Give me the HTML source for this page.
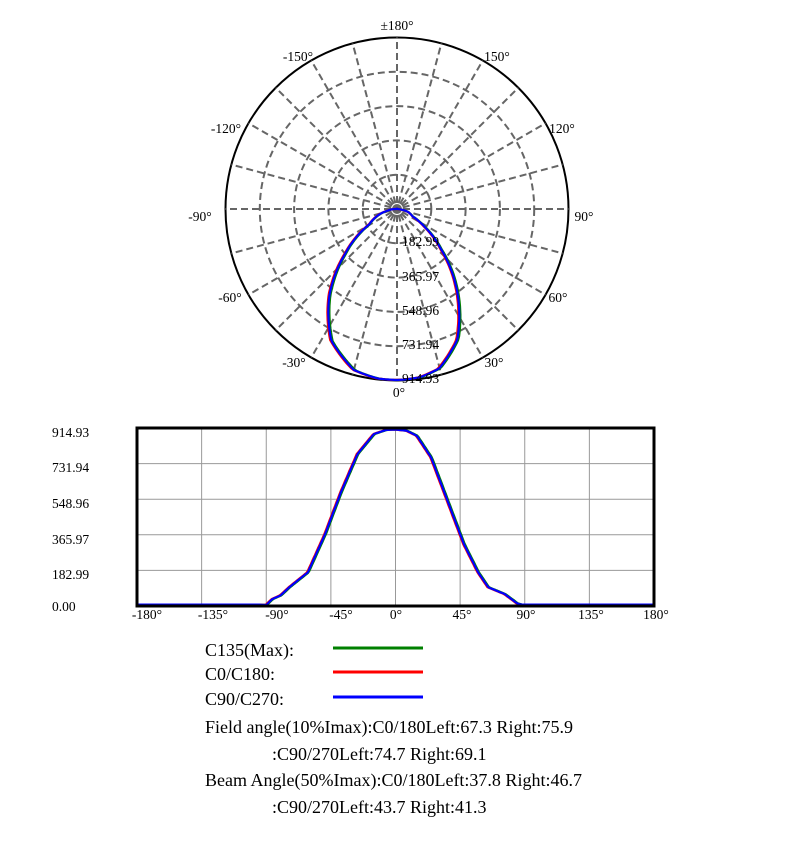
<!DOCTYPE html>
<html><head><meta charset="utf-8"><style>
body{margin:0;background:#fff;width:799px;height:841px;overflow:hidden}
svg{position:absolute;left:0;top:0}
text{font-family:"Liberation Serif",serif;fill:#000}
</style></head><body>
<svg id="s" width="799" height="841" viewBox="0 0 799 841">
<g id="polar"></g>
<g id="cart"></g>
<g font-size="13.5">
<text x="397" y="30" text-anchor="middle">±180°</text>
<text x="298" y="61" text-anchor="middle">-150°</text>
<text x="497" y="61" text-anchor="middle">150°</text>
<text x="226" y="133" text-anchor="middle">-120°</text>
<text x="562" y="133" text-anchor="middle">120°</text>
<text x="200" y="221" text-anchor="middle">-90°</text>
<text x="584" y="221" text-anchor="middle">90°</text>
<text x="230" y="302" text-anchor="middle">-60°</text>
<text x="558" y="302" text-anchor="middle">60°</text>
<text x="294" y="367" text-anchor="middle">-30°</text>
<text x="494" y="367" text-anchor="middle">30°</text>
<text x="399" y="397" text-anchor="middle">0°</text>
<text x="402" y="246">182.99</text>
<text x="402" y="281">365.97</text>
<text x="402" y="315">548.96</text>
<text x="402" y="349">731.94</text>
<text x="402" y="383">914.93</text>
<text x="52" y="437">914.93</text>
<text x="52" y="472">731.94</text>
<text x="52" y="508">548.96</text>
<text x="52" y="544">365.97</text>
<text x="52" y="579">182.99</text>
<text x="52" y="611">0.00</text>
<text x="147" y="619" text-anchor="middle">-180°</text>
<text x="213" y="619" text-anchor="middle">-135°</text>
<text x="277" y="619" text-anchor="middle">-90°</text>
<text x="341" y="619" text-anchor="middle">-45°</text>
<text x="396" y="619" text-anchor="middle">0°</text>
<text x="462" y="619" text-anchor="middle">45°</text>
<text x="526" y="619" text-anchor="middle">90°</text>
<text x="591" y="619" text-anchor="middle">135°</text>
<text x="656" y="619" text-anchor="middle">180°</text>
</g>
<g font-size="18">
<text x="205" y="656">C135(Max):</text>
<text x="205" y="680">C0/C180:</text>
<text x="205" y="705">C90/C270:</text>
<text x="205" y="733">Field angle(10%Imax):C0/180Left:67.3 Right:75.9</text>
<text x="272" y="760">:C90/270Left:74.7 Right:69.1</text>
<text x="205" y="786">Beam Angle(50%Imax):C0/180Left:37.8 Right:46.7</text>
<text x="272" y="813">:C90/270Left:43.7 Right:41.3</text>
</g>
<line x1="333" y1="648" x2="423" y2="648" stroke="#008000" stroke-width="3"/>
<line x1="333" y1="672" x2="423" y2="672" stroke="#ff0000" stroke-width="3"/>
<line x1="333" y1="697" x2="423" y2="697" stroke="#0000ff" stroke-width="3"/>
</svg>
<script>
var NS="http://www.w3.org/2000/svg";
function el(p,t,a){var e=document.createElementNS(NS,t);for(var k in a)e.setAttribute(k,a[k]);p.appendChild(e);return e;}
var pts=[[-180,2],[-95,2],[-90,0],[-86,30],[-80,50],[-74,92],[-61,170],[-49,369],[-38,586],[-26.5,785],[-15,889],[-6.5,910],[0,912],[7.7,906],[14.8,880],[24.8,767],[36.2,542],[47.6,317],[57.5,170],[64.6,92],[76,57],[84.6,9],[87.4,2],[180,2]];
function I(a,sh,sc){a-=sh;for(var i=0;i<pts.length-1;i++){if(a>=pts[i][0]&&a<=pts[i+1][0]){var t=(a-pts[i][0])/(pts[i+1][0]-pts[i][0]);return (pts[i][1]+t*(pts[i+1][1]-pts[i][1]))*sc;}}return 2;}
var cx=397,cy=209,R=171.5,P=document.getElementById('polar');
el(P,'circle',{cx:cx,cy:cy,r:R,fill:'none',stroke:'#000','stroke-width':2});
for(var k=1;k<=4;k++)el(P,'circle',{cx:cx,cy:cy,r:R*k/5,fill:'none',stroke:'#666','stroke-width':2,'stroke-dasharray':'7,4'});
el(P,'circle',{cx:cx,cy:cy,r:5,fill:'#666'});
for(var d=0;d<360;d+=15){var r=d*Math.PI/180;el(P,'line',{x1:cx+6*Math.sin(r),y1:cy+6*Math.cos(r),x2:cx+R*Math.sin(r),y2:cy+R*Math.cos(r),stroke:'#666','stroke-width':2,'stroke-dasharray':'7,4'});}
var C=document.getElementById('cart'),L=137,Rt=654,T=428,B=606;
for(var i=1;i<8;i++){var x=L+(Rt-L)*i/8;el(C,'line',{x1:x,y1:T,x2:x,y2:B,stroke:'#999','stroke-width':1});}
for(var i=1;i<5;i++){var y=T+(B-T)*i/5;el(C,'line',{x1:L,y1:y,x2:Rt,y2:y,stroke:'#999','stroke-width':1});}
var ser=[['#008000',0.6,1.0],['#ff0000',-0.5,1.0],['#0000ff',0,1]];
ser.forEach(function(s){var pp='',cp='';for(var a=-180;a<=180;a+=1){var v=I(a,s[1],s[2]);var rr=v/914.93*R,ra=a*Math.PI/180;
pp+=(a==-180?'M':'L')+(cx+rr*Math.sin(ra)).toFixed(1)+','+(cy+rr*Math.cos(ra)).toFixed(1);
cp+=(a==-180?'M':'L')+(L+(a+180)/360*(Rt-L)).toFixed(1)+','+(B-1-v/914.93*(B-T-2)).toFixed(1);}
el(P,'path',{d:pp,fill:'none',stroke:s[0],'stroke-width':2.2,'stroke-linejoin':'round'});el(C,'path',{d:cp,fill:'none',stroke:s[0],'stroke-width':2.2,'stroke-linejoin':'round'});});
el(C,'rect',{x:L,y:T,width:Rt-L,height:B-T,fill:'none',stroke:'#000','stroke-width':3});
</script>
</body></html>
